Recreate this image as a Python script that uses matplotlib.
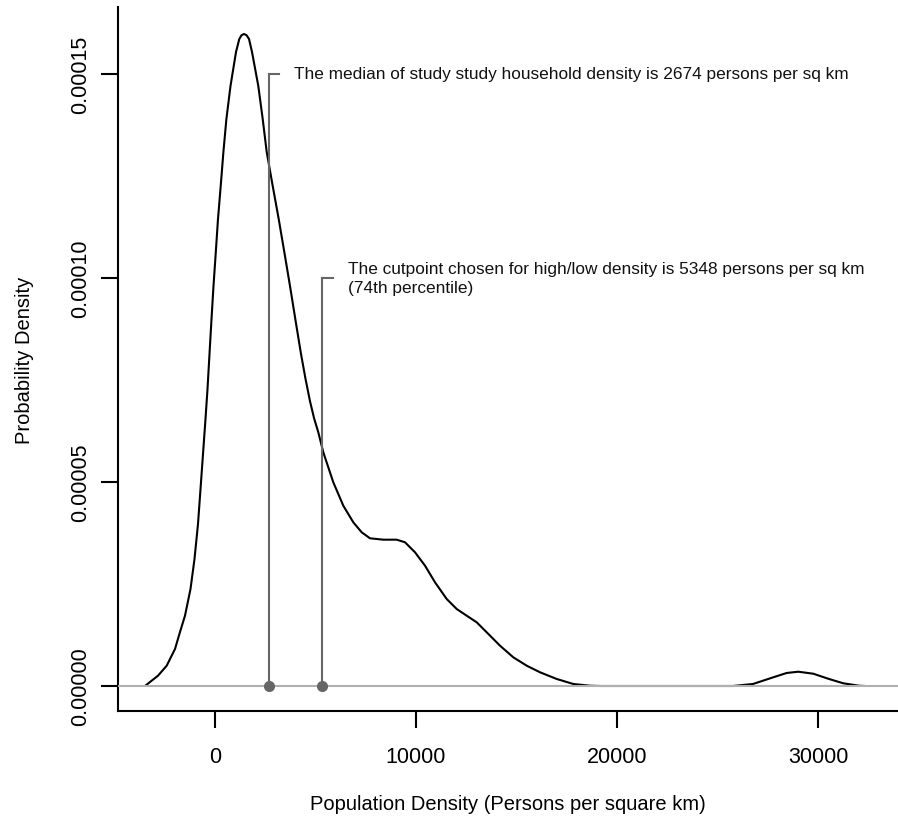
import matplotlib
matplotlib.use("Agg")
import matplotlib.pyplot as plt

plt.rcParams['font.family'] = ['Liberation Sans', 'DejaVu Sans']

# Density curve (persons per sq km -> probability density x 1e-6)
density_x = [-3482, -3234, -2836, -2403, -1990, -1741, -1493, -1219, -1020, -846, -721,
             -597, -473, -373, -274, -174, -75, 40, 149, 284, 418, 567, 771, 1045, 1209,
             1320, 1443, 1570, 1692, 1841, 2154, 2373, 2572, 2871, 3169, 3448, 3731, 3995,
             4279, 4502, 4726, 4930, 5139, 5388, 5885, 6383, 6880, 7298, 7711, 8373, 9040,
             9453, 9950, 10448, 10945, 11527, 12025, 12522, 13020, 13517, 14179, 14840,
             15507, 16169, 17000, 17826, 18656, 19154, 25770, 26766, 27775, 28442, 29019,
             29765, 30546, 31258, 32039, 32338]
density_y_e6 = [0.0, 0.98, 2.52, 4.98, 9.07, 13.24, 17.23, 23.77, 31.13, 39.71, 48.28,
                56.86, 65.44, 72.79, 81.37, 89.95, 98.04, 106.37, 114.46, 122.55, 130.88,
                138.97, 147.06, 155.39, 158.58, 159.5, 159.81, 159.5, 158.58, 155.39,
                147.06, 138.97, 130.88, 122.55, 114.46, 106.37, 98.04, 89.95, 81.37, 75.3,
                69.8, 65.6, 62.18, 57.28, 49.93, 44.19, 40.12, 37.67, 36.20, 35.86, 35.86,
                35.22, 32.77, 29.49, 25.42, 21.32, 18.87, 17.23, 15.61, 13.16, 9.88, 7.03,
                4.98, 3.36, 1.72, 0.49, 0.07, 0.0, 0.0, 0.49, 2.13, 3.19, 3.50, 3.01, 1.72,
                0.66, 0.07, 0.0]
density_y = [v * 1e-6 for v in density_y_e6]

marker_x = [2674, 5348]
marker_top = [0.00015, 0.00010]
marker_text = ["The median of study study household density is 2674 persons per sq km",
               "The cutpoint chosen for high/low density is 5348 persons per sq km\n(74th percentile)"]

x_ticks = [0, 10000, 20000, 30000]
x_tick_labels = ["0", "10000", "20000", "30000"]
y_ticks = [0.0, 0.00005, 0.00010, 0.00015]
y_tick_labels = ["0.00000", "0.00005", "0.00010", "0.00015"]

W, H = 898, 829
fig = plt.figure(figsize=(W / 100, H / 100), dpi=100)
ax = fig.add_axes([118 / W, 1 - 712 / H, 780 / W, 704 / H])

ax.plot(density_x, density_y, color='black', lw=1.5, zorder=2,
        solid_joinstyle='round', solid_capstyle='round')
ax.axhline(0, color='#b0b0b0', lw=1.5, zorder=3)

for mx, mt, txt in zip(marker_x, marker_top, marker_text):
    ax.plot([mx, mx], [0, mt], color='#666666', lw=1.5, zorder=4)
    ax.plot([mx, mx + 500], [mt, mt], color='#666666', lw=1.5, zorder=4)
    ax.plot([mx], [0], 'o', color='#666666', ms=7, zorder=5)
    ax.text(mx + 1250, mt, txt, ha='left', va='center', fontsize=12.4,
            linespacing=1.4, color='#111111')

ax.set_xlim(-4826, 33980)
ax.set_ylim(-6.13e-6, 1.6642e-4)

ax.set_xticks(x_ticks)
ax.set_xticklabels(x_tick_labels)
ax.set_yticks(y_ticks)
ax.set_yticklabels(y_tick_labels, rotation=90, va='center')

for s in ['top', 'right']:
    ax.spines[s].set_visible(False)
for s in ['left', 'bottom']:
    ax.spines[s].set_linewidth(1.5)

ax.tick_params(axis='both', direction='out', length=12, width=1.5, labelsize=15.5)
ax.tick_params(axis='x', pad=13)
ax.tick_params(axis='y', pad=7)

ax.set_xlabel("Population Density (Persons per square km)", fontsize=14.5, labelpad=20)
ax.set_ylabel("Probability Density", fontsize=14.5, labelpad=26)

fig.savefig("out.png", dpi=100)
